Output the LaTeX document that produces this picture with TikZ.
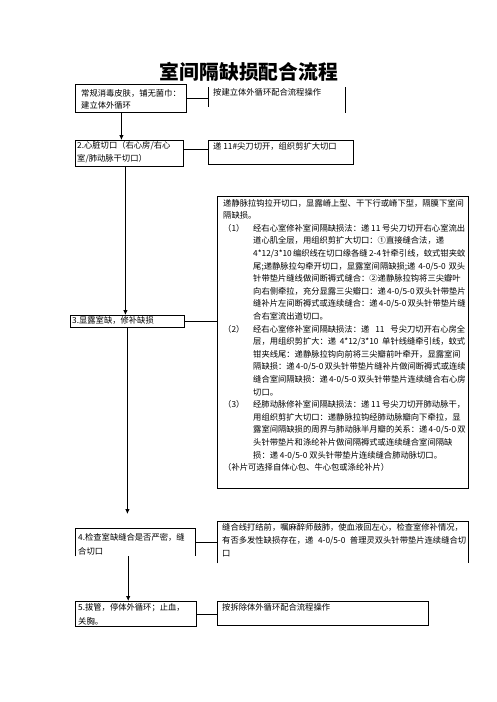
\documentclass[tikz,border=0pt]{standalone}
\usepackage{fontspec}
\setmainfont{Noto Sans CJK SC}
\usetikzlibrary{arrows.meta}
\XeTeXinterchartokenstate=1
\newcommand\cjkglue{\hskip 0pt plus 1pt\relax}
\XeTeXinterchartoks 1 1 = {\cjkglue}
\XeTeXinterchartoks 1 2 = {\cjkglue}
\XeTeXinterchartoks 1 3 = {\cjkglue}
\XeTeXinterchartoks 3 1 = {\cjkglue}
\XeTeXinterchartoks 3 2 = {\cjkglue}
\XeTeXinterchartoks 3 3 = {\cjkglue}
\XeTeXinterchartoks 2 1 = {\cjkglue}
\XeTeXinterchartoks 1 0 = {\cjkglue}
\XeTeXinterchartoks 0 1 = {\cjkglue}
\XeTeXinterchartoks 3 0 = {\cjkglue}
\XeTeXinterchartoks 0 3 = {\cjkglue}
\newcommand\jl[2]{\makebox[#1][s]{#2}}
\newcommand\lab[1]{\makebox[30pt][l]{#1}}
\tikzset{
  boxed/.style={draw, line width=0.8pt, inner sep=0pt, anchor=north west},
  openbox/.style={draw=none, inner sep=0pt, anchor=north west},
  txt/.style={anchor=base west, inner sep=0pt, font=\fontsize{8.3}{12.6}\selectfont},
  conn/.style={line width=0.8pt},
  arr/.style={line width=0.8pt, -{Latex[length=5pt,width=4.5pt]}},
}
\begin{document}
\begin{tikzpicture}[x=1pt,y=-1pt]
\fill[white] (0,0) rectangle (496,702);
\useasboundingbox (0,0) rectangle (496,702);

\node[anchor=base, inner sep=0pt, font=\fontsize{19.8}{22}\selectfont\bfseries] (title) at (249,79.5) {室间隔缺损配合流程};

% boxes
\node[boxed, minimum width=111pt, minimum height=28pt] (b1) at (75,84) {};
\node[openbox, minimum width=137pt, minimum height=26pt] (rb1) at (208,87) {};
\draw[conn] (rb1.north west) -- ([yshift=6pt]rb1.south west);
\draw[conn] (rb1.north east) -- (rb1.south east);

\node[boxed, minimum width=108pt, minimum height=26pt] (b2) at (75,140) {};
\node[boxed, minimum width=145pt, minimum height=24pt] (rb2) at (208,140) {};

\node[boxed, minimum width=114pt, minimum height=12pt] (b3) at (70,315) {};
\node[boxed, minimum width=251pt, minimum height=292pt] (bb) at (217,196) {};

\node[openbox, minimum width=120pt, minimum height=28pt] (b4) at (75,528) {};
\draw[conn] (b4.south west) -- (b4.north west) -- (b4.north east) -- (b4.south east);
\node[openbox, minimum width=251pt, minimum height=42pt] (rb4) at (217,521) {};
\draw[conn] (rb4.south west) -- (rb4.north west) -- (rb4.north east) -- (rb4.south east);

\node[boxed, minimum width=121pt, minimum height=25pt] (b5) at (75,601) {};
\node[boxed, minimum width=211pt, minimum height=24pt] (rb5) at (217,601) {};

% connectors
\draw[conn] (b1.east) -- (b1.east -| rb1.west);
\draw[conn] ([yshift=4pt]b2.east) -- ([yshift=4pt]b2.east -| rb2.west);
\draw[conn] (b3.east) -- (b3.east -| bb.west);
\draw[conn] (b4.east) -- (b4.east -| rb4.west);
\draw[conn] (b5.east) -- (b5.east -| rb5.west);

\draw[arr] ([xshift=-9.5pt]b1.south) -- ([xshift=-9.5pt]b1.south |- b2.north);
\draw[arr] ([xshift=-4pt]b2.south) -- ([xshift=-4pt]b2.south |- b3.north);
\draw[arr, shorten >=14pt] (b3.south) -- (b3.south |- b4.north);
\draw[arr] ([xshift=-7pt]b4.south) -- ([xshift=-7pt]b4.south |- b5.north);

% texts of small boxes
\node[txt] (t1a) at (81,96) {常规消毒皮肤，铺无菌巾：};
\node[txt] (t1b) at (81,108.5) {建立体外循环};
\node[txt] (tr1) at (213,95) {按建立体外循环配合流程操作};
\node[txt] (t2a) at (77,148.5) {2.心脏切口（右心房/右心};
\node[txt] (t2b) at (77,161) {室/肺动脉干切口）};
\node[txt] (tr2) at (213,149) {递 11\#尖刀切开，组织剪扩大切口};
\node[txt] (t3) at (72,323.5) {3.显露室缺，修补缺损};
\node[txt] (t4a) at (78,540.5) {4.检查室缺缝合是否严密，缝};
\node[txt] (t4b) at (78,554) {合切口};
\node[txt] (tr4a) at (222,530.5) {\jl{244pt}{缝合线打结前，嘱麻醉师鼓肺，使血液回左心，检查室修补情况，}};
\node[txt] (tr4b) at (222,543.5) {\jl{244pt}{有否多发性缺损存在，递 4-0/5-0 普理灵双头针带垫片连续缝合切}};
\node[txt] (tr4c) at (222,556.5) {口};
\node[txt] (t5a) at (78,610.5) {5.拔管，停体外循环；止血，};
\node[txt] (t5b) at (78,624) {关胸。};
\node[txt] (tr5) at (222,610) {按拆除体外循环配合流程操作};

% big box text
\node[txt] (L1) at (223,206) {\jl{242pt}{递静脉拉钩拉开切口，显露嵴上型、干下行或嵴下型，隔膜下室间}};
\node[txt] (L2) at (223,218.6) {隔缺损。};
\node[txt] (L3) at (223,231.2) {\lab{（1）}\jl{212pt}{经右心室修补室间隔缺损法：递 11 号尖刀切开右心室流出}};
\node[txt] (L4) at (253,243.8) {\jl{212pt}{道心肌全层，用组织剪扩大切口：①直接缝合法，递}};
\node[txt] (L5) at (253,256.4) {\jl{212pt}{4*12/3*10 编织线在切口缘各缝 2-4 针牵引线，蚊式钳夹蚊}};
\node[txt] (L6) at (253,269) {\jl{212pt}{尾;递静脉拉勾牵开切口，显露室间隔缺损;递 4-0/5-0 双头}};
\node[txt] (L7) at (253,281.6) {\jl{212pt}{针带垫片缝线做间断褥式缝合：②递静脉拉钩将三尖瓣叶}};
\node[txt] (L8) at (253,294.2) {\jl{212pt}{向右侧牵拉，充分显露三尖瓣口：递 4-0/5-0 双头针带垫片}};
\node[txt] (L9) at (253,306.8) {\jl{212pt}{缝补片左间断褥式或连续缝合：递 4-0/5-0 双头针带垫片缝}};
\node[txt] (L10) at (253,319.4) {合右室流出道切口。};
\node[txt] (L11) at (223,332) {\lab{（2）}\jl{212pt}{经右心室修补室间隔缺损法：递 11 号尖刀切开右心房全}};
\node[txt] (L12) at (253,344.6) {\jl{212pt}{层，用组织剪扩大：递 4*12/3*10 单针线缝牵引线，蚊式}};
\node[txt] (L13) at (253,357.2) {\jl{212pt}{钳夹线尾：递静脉拉钩向前将三尖瓣前叶牵开，显露室间}};
\node[txt] (L14) at (253,369.8) {\jl{212pt}{隔缺损：递 4-0/5-0 双头针带垫片缝补片做间断褥式或连续}};
\node[txt] (L15) at (253,382.4) {\jl{212pt}{缝合室间隔缺损：递 4-0/5-0 双头针带垫片连续缝合右心房}};
\node[txt] (L16) at (253,395) {切口。};
\node[txt] (L17) at (223,407.6) {\lab{（3）}\jl{212pt}{经肺动脉修补室间隔缺损法：递 11 号尖刀切开肺动脉干，}};
\node[txt] (L18) at (253,420.2) {\jl{212pt}{用组织剪扩大切口：递静脉拉钩经肺动脉瓣向下牵拉，显}};
\node[txt] (L19) at (253,432.8) {\jl{212pt}{露室间隔缺损的周界与肺动脉半月瓣的关系：递 4-0/5-0 双}};
\node[txt] (L20) at (253,445.4) {\jl{212pt}{头针带垫片和涤纶补片做间隔褥式或连续缝合室间隔缺}};
\node[txt] (L21) at (253,458) {损：递 4-0/5-0 双头针带垫片连续缝合肺动脉切口。};
\node[txt] (L22) at (223,470.6) {（补片可选择自体心包、牛心包或涤纶补片）};
\end{tikzpicture}
\end{document}
